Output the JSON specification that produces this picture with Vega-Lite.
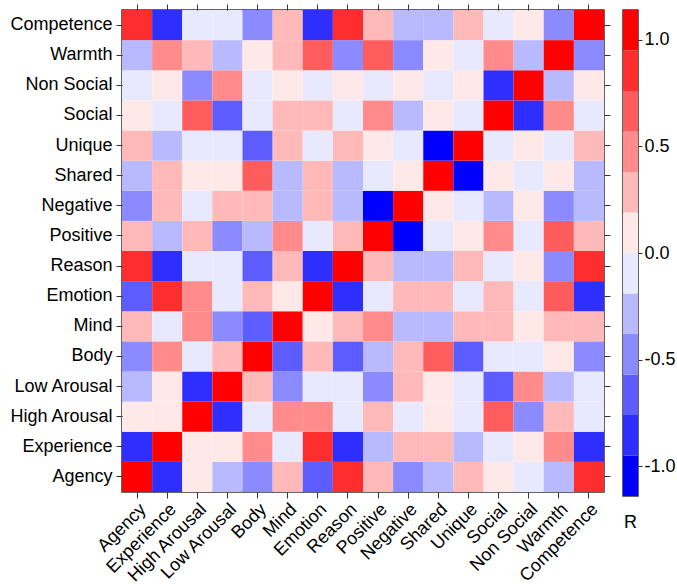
{
  "$schema": "https://vega.github.io/schema/vega-lite/v6.json",
  "padding": {"left": 8, "top": 2, "right": 0, "bottom": 2},
  "background": "white",
  "config": {
    "font": "Liberation Sans",
    "view": {"stroke": "#333333", "strokeWidth": 1.5},
    "axis": {"labelFontSize": 18, "labelColor": "#000000", "labelFont": "Liberation Sans", "tickColor": "#333333", "tickSize": 6, "tickWidth": 1, "domain": false, "grid": false, "title": null},
    "concat": {"spacing": 10}
  },
  "resolve": {"scale": {"color": "independent"}},
  "datasets": {
    "cells": [
      {"x":"Agency","y":"Agency","r":1},{"x":"Experience","y":"Agency","r":-0.85},{"x":"High Arousal","y":"Agency","r":0.09},{"x":"Low Arousal","y":"Agency","r":-0.28},{"x":"Body","y":"Agency","r":-0.47},{"x":"Mind","y":"Agency","r":0.28},{"x":"Emotion","y":"Agency","r":-0.66},{"x":"Reason","y":"Agency","r":0.85},{"x":"Positive","y":"Agency","r":0.28},{"x":"Negative","y":"Agency","r":-0.47},{"x":"Shared","y":"Agency","r":-0.28},{"x":"Unique","y":"Agency","r":0.28},{"x":"Social","y":"Agency","r":0.09},{"x":"Non Social","y":"Agency","r":-0.09},{"x":"Warmth","y":"Agency","r":-0.28},{"x":"Competence","y":"Agency","r":0.85},
      {"x":"Agency","y":"Experience","r":-0.85},{"x":"Experience","y":"Experience","r":1},{"x":"High Arousal","y":"Experience","r":0.09},{"x":"Low Arousal","y":"Experience","r":0.09},{"x":"Body","y":"Experience","r":0.47},{"x":"Mind","y":"Experience","r":-0.09},{"x":"Emotion","y":"Experience","r":0.85},{"x":"Reason","y":"Experience","r":-0.85},{"x":"Positive","y":"Experience","r":-0.28},{"x":"Negative","y":"Experience","r":0.28},{"x":"Shared","y":"Experience","r":0.28},{"x":"Unique","y":"Experience","r":-0.28},{"x":"Social","y":"Experience","r":-0.09},{"x":"Non Social","y":"Experience","r":0.09},{"x":"Warmth","y":"Experience","r":0.47},{"x":"Competence","y":"Experience","r":-0.85},
      {"x":"Agency","y":"High Arousal","r":0.09},{"x":"Experience","y":"High Arousal","r":0.09},{"x":"High Arousal","y":"High Arousal","r":1},{"x":"Low Arousal","y":"High Arousal","r":-0.85},{"x":"Body","y":"High Arousal","r":-0.09},{"x":"Mind","y":"High Arousal","r":0.47},{"x":"Emotion","y":"High Arousal","r":0.47},{"x":"Reason","y":"High Arousal","r":-0.09},{"x":"Positive","y":"High Arousal","r":0.28},{"x":"Negative","y":"High Arousal","r":-0.09},{"x":"Shared","y":"High Arousal","r":0.09},{"x":"Unique","y":"High Arousal","r":-0.09},{"x":"Social","y":"High Arousal","r":0.66},{"x":"Non Social","y":"High Arousal","r":-0.47},{"x":"Warmth","y":"High Arousal","r":0.28},{"x":"Competence","y":"High Arousal","r":-0.09},
      {"x":"Agency","y":"Low Arousal","r":-0.28},{"x":"Experience","y":"Low Arousal","r":0.09},{"x":"High Arousal","y":"Low Arousal","r":-0.85},{"x":"Low Arousal","y":"Low Arousal","r":1},{"x":"Body","y":"Low Arousal","r":0.28},{"x":"Mind","y":"Low Arousal","r":-0.47},{"x":"Emotion","y":"Low Arousal","r":-0.09},{"x":"Reason","y":"Low Arousal","r":-0.09},{"x":"Positive","y":"Low Arousal","r":-0.47},{"x":"Negative","y":"Low Arousal","r":0.28},{"x":"Shared","y":"Low Arousal","r":0.09},{"x":"Unique","y":"Low Arousal","r":-0.09},{"x":"Social","y":"Low Arousal","r":-0.66},{"x":"Non Social","y":"Low Arousal","r":0.47},{"x":"Warmth","y":"Low Arousal","r":-0.28},{"x":"Competence","y":"Low Arousal","r":-0.09},
      {"x":"Agency","y":"Body","r":-0.47},{"x":"Experience","y":"Body","r":0.47},{"x":"High Arousal","y":"Body","r":-0.09},{"x":"Low Arousal","y":"Body","r":0.28},{"x":"Body","y":"Body","r":1},{"x":"Mind","y":"Body","r":-0.66},{"x":"Emotion","y":"Body","r":0.28},{"x":"Reason","y":"Body","r":-0.66},{"x":"Positive","y":"Body","r":-0.28},{"x":"Negative","y":"Body","r":0.28},{"x":"Shared","y":"Body","r":0.66},{"x":"Unique","y":"Body","r":-0.66},{"x":"Social","y":"Body","r":-0.09},{"x":"Non Social","y":"Body","r":-0.09},{"x":"Warmth","y":"Body","r":0.09},{"x":"Competence","y":"Body","r":-0.47},
      {"x":"Agency","y":"Mind","r":0.28},{"x":"Experience","y":"Mind","r":-0.09},{"x":"High Arousal","y":"Mind","r":0.47},{"x":"Low Arousal","y":"Mind","r":-0.47},{"x":"Body","y":"Mind","r":-0.66},{"x":"Mind","y":"Mind","r":1},{"x":"Emotion","y":"Mind","r":0.09},{"x":"Reason","y":"Mind","r":0.28},{"x":"Positive","y":"Mind","r":0.47},{"x":"Negative","y":"Mind","r":-0.28},{"x":"Shared","y":"Mind","r":-0.28},{"x":"Unique","y":"Mind","r":0.28},{"x":"Social","y":"Mind","r":0.28},{"x":"Non Social","y":"Mind","r":0.09},{"x":"Warmth","y":"Mind","r":0.28},{"x":"Competence","y":"Mind","r":0.28},
      {"x":"Agency","y":"Emotion","r":-0.66},{"x":"Experience","y":"Emotion","r":0.85},{"x":"High Arousal","y":"Emotion","r":0.47},{"x":"Low Arousal","y":"Emotion","r":-0.09},{"x":"Body","y":"Emotion","r":0.28},{"x":"Mind","y":"Emotion","r":0.09},{"x":"Emotion","y":"Emotion","r":1},{"x":"Reason","y":"Emotion","r":-0.85},{"x":"Positive","y":"Emotion","r":-0.09},{"x":"Negative","y":"Emotion","r":0.28},{"x":"Shared","y":"Emotion","r":0.28},{"x":"Unique","y":"Emotion","r":-0.09},{"x":"Social","y":"Emotion","r":0.28},{"x":"Non Social","y":"Emotion","r":-0.09},{"x":"Warmth","y":"Emotion","r":0.66},{"x":"Competence","y":"Emotion","r":-0.85},
      {"x":"Agency","y":"Reason","r":0.85},{"x":"Experience","y":"Reason","r":-0.85},{"x":"High Arousal","y":"Reason","r":-0.09},{"x":"Low Arousal","y":"Reason","r":-0.09},{"x":"Body","y":"Reason","r":-0.66},{"x":"Mind","y":"Reason","r":0.28},{"x":"Emotion","y":"Reason","r":-0.85},{"x":"Reason","y":"Reason","r":1},{"x":"Positive","y":"Reason","r":0.28},{"x":"Negative","y":"Reason","r":-0.28},{"x":"Shared","y":"Reason","r":-0.28},{"x":"Unique","y":"Reason","r":0.28},{"x":"Social","y":"Reason","r":-0.09},{"x":"Non Social","y":"Reason","r":0.09},{"x":"Warmth","y":"Reason","r":-0.47},{"x":"Competence","y":"Reason","r":0.85},
      {"x":"Agency","y":"Positive","r":0.28},{"x":"Experience","y":"Positive","r":-0.28},{"x":"High Arousal","y":"Positive","r":0.28},{"x":"Low Arousal","y":"Positive","r":-0.47},{"x":"Body","y":"Positive","r":-0.28},{"x":"Mind","y":"Positive","r":0.47},{"x":"Emotion","y":"Positive","r":-0.09},{"x":"Reason","y":"Positive","r":0.28},{"x":"Positive","y":"Positive","r":1},{"x":"Negative","y":"Positive","r":-0.98},{"x":"Shared","y":"Positive","r":-0.09},{"x":"Unique","y":"Positive","r":0.09},{"x":"Social","y":"Positive","r":0.47},{"x":"Non Social","y":"Positive","r":-0.09},{"x":"Warmth","y":"Positive","r":0.66},{"x":"Competence","y":"Positive","r":0.28},
      {"x":"Agency","y":"Negative","r":-0.47},{"x":"Experience","y":"Negative","r":0.28},{"x":"High Arousal","y":"Negative","r":-0.09},{"x":"Low Arousal","y":"Negative","r":0.28},{"x":"Body","y":"Negative","r":0.28},{"x":"Mind","y":"Negative","r":-0.28},{"x":"Emotion","y":"Negative","r":0.28},{"x":"Reason","y":"Negative","r":-0.28},{"x":"Positive","y":"Negative","r":-0.98},{"x":"Negative","y":"Negative","r":1},{"x":"Shared","y":"Negative","r":0.09},{"x":"Unique","y":"Negative","r":-0.09},{"x":"Social","y":"Negative","r":-0.28},{"x":"Non Social","y":"Negative","r":0.09},{"x":"Warmth","y":"Negative","r":-0.47},{"x":"Competence","y":"Negative","r":-0.28},
      {"x":"Agency","y":"Shared","r":-0.28},{"x":"Experience","y":"Shared","r":0.28},{"x":"High Arousal","y":"Shared","r":0.09},{"x":"Low Arousal","y":"Shared","r":0.09},{"x":"Body","y":"Shared","r":0.66},{"x":"Mind","y":"Shared","r":-0.28},{"x":"Emotion","y":"Shared","r":0.28},{"x":"Reason","y":"Shared","r":-0.28},{"x":"Positive","y":"Shared","r":-0.09},{"x":"Negative","y":"Shared","r":0.09},{"x":"Shared","y":"Shared","r":1},{"x":"Unique","y":"Shared","r":-0.98},{"x":"Social","y":"Shared","r":0.09},{"x":"Non Social","y":"Shared","r":-0.09},{"x":"Warmth","y":"Shared","r":0.09},{"x":"Competence","y":"Shared","r":-0.28},
      {"x":"Agency","y":"Unique","r":0.28},{"x":"Experience","y":"Unique","r":-0.28},{"x":"High Arousal","y":"Unique","r":-0.09},{"x":"Low Arousal","y":"Unique","r":-0.09},{"x":"Body","y":"Unique","r":-0.66},{"x":"Mind","y":"Unique","r":0.28},{"x":"Emotion","y":"Unique","r":-0.09},{"x":"Reason","y":"Unique","r":0.28},{"x":"Positive","y":"Unique","r":0.09},{"x":"Negative","y":"Unique","r":-0.09},{"x":"Shared","y":"Unique","r":-0.98},{"x":"Unique","y":"Unique","r":1},{"x":"Social","y":"Unique","r":-0.09},{"x":"Non Social","y":"Unique","r":0.09},{"x":"Warmth","y":"Unique","r":-0.09},{"x":"Competence","y":"Unique","r":0.28},
      {"x":"Agency","y":"Social","r":0.09},{"x":"Experience","y":"Social","r":-0.09},{"x":"High Arousal","y":"Social","r":0.66},{"x":"Low Arousal","y":"Social","r":-0.66},{"x":"Body","y":"Social","r":-0.09},{"x":"Mind","y":"Social","r":0.28},{"x":"Emotion","y":"Social","r":0.28},{"x":"Reason","y":"Social","r":-0.09},{"x":"Positive","y":"Social","r":0.47},{"x":"Negative","y":"Social","r":-0.28},{"x":"Shared","y":"Social","r":0.09},{"x":"Unique","y":"Social","r":-0.09},{"x":"Social","y":"Social","r":1},{"x":"Non Social","y":"Social","r":-0.85},{"x":"Warmth","y":"Social","r":0.47},{"x":"Competence","y":"Social","r":-0.09},
      {"x":"Agency","y":"Non Social","r":-0.09},{"x":"Experience","y":"Non Social","r":0.09},{"x":"High Arousal","y":"Non Social","r":-0.47},{"x":"Low Arousal","y":"Non Social","r":0.47},{"x":"Body","y":"Non Social","r":-0.09},{"x":"Mind","y":"Non Social","r":0.09},{"x":"Emotion","y":"Non Social","r":-0.09},{"x":"Reason","y":"Non Social","r":0.09},{"x":"Positive","y":"Non Social","r":-0.09},{"x":"Negative","y":"Non Social","r":0.09},{"x":"Shared","y":"Non Social","r":-0.09},{"x":"Unique","y":"Non Social","r":0.09},{"x":"Social","y":"Non Social","r":-0.85},{"x":"Non Social","y":"Non Social","r":1},{"x":"Warmth","y":"Non Social","r":-0.28},{"x":"Competence","y":"Non Social","r":0.09},
      {"x":"Agency","y":"Warmth","r":-0.28},{"x":"Experience","y":"Warmth","r":0.47},{"x":"High Arousal","y":"Warmth","r":0.28},{"x":"Low Arousal","y":"Warmth","r":-0.28},{"x":"Body","y":"Warmth","r":0.09},{"x":"Mind","y":"Warmth","r":0.28},{"x":"Emotion","y":"Warmth","r":0.66},{"x":"Reason","y":"Warmth","r":-0.47},{"x":"Positive","y":"Warmth","r":0.66},{"x":"Negative","y":"Warmth","r":-0.47},{"x":"Shared","y":"Warmth","r":0.09},{"x":"Unique","y":"Warmth","r":-0.09},{"x":"Social","y":"Warmth","r":0.47},{"x":"Non Social","y":"Warmth","r":-0.28},{"x":"Warmth","y":"Warmth","r":1},{"x":"Competence","y":"Warmth","r":-0.47},
      {"x":"Agency","y":"Competence","r":0.85},{"x":"Experience","y":"Competence","r":-0.85},{"x":"High Arousal","y":"Competence","r":-0.09},{"x":"Low Arousal","y":"Competence","r":-0.09},{"x":"Body","y":"Competence","r":-0.47},{"x":"Mind","y":"Competence","r":0.28},{"x":"Emotion","y":"Competence","r":-0.85},{"x":"Reason","y":"Competence","r":0.85},{"x":"Positive","y":"Competence","r":0.28},{"x":"Negative","y":"Competence","r":-0.28},{"x":"Shared","y":"Competence","r":-0.28},{"x":"Unique","y":"Competence","r":0.28},{"x":"Social","y":"Competence","r":-0.09},{"x":"Non Social","y":"Competence","r":0.09},{"x":"Warmth","y":"Competence","r":-0.47},{"x":"Competence","y":"Competence","r":1}
    ],
    "bands": [
      {"lo":-1.14,"hi":-0.95,"mid":-1.0},{"lo":-0.95,"hi":-0.76,"mid":-0.85},{"lo":-0.76,"hi":-0.57,"mid":-0.66},{"lo":-0.57,"hi":-0.38,"mid":-0.47},{"lo":-0.38,"hi":-0.19,"mid":-0.28},{"lo":-0.19,"hi":0,"mid":-0.09},
      {"lo":0,"hi":0.19,"mid":0.09},{"lo":0.19,"hi":0.38,"mid":0.28},{"lo":0.38,"hi":0.57,"mid":0.47},{"lo":0.57,"hi":0.76,"mid":0.66},{"lo":0.76,"hi":0.95,"mid":0.85},{"lo":0.95,"hi":1.14,"mid":1.0}
    ]
  },
  "hconcat": [
    {
      "width": 482,
      "height": 482,
      "data": {"name": "cells"},
      "layer": [
        {
          "mark": {"type": "rect"},
          "encoding": {
            "x": {"field": "x", "type": "nominal", "sort": ["Agency","Experience","High Arousal","Low Arousal","Body","Mind","Emotion","Reason","Positive","Negative","Shared","Unique","Social","Non Social","Warmth","Competence"], "scale": {"paddingInner": 0, "paddingOuter": 0}, "axis": {"orient": "bottom", "labelAngle": -45, "labelPadding": 2, "title": null}},
            "y": {"field": "y", "type": "nominal", "sort": ["Competence","Warmth","Non Social","Social","Unique","Shared","Negative","Positive","Reason","Emotion","Mind","Body","Low Arousal","High Arousal","Experience","Agency"], "scale": {"paddingInner": 0, "paddingOuter": 0}, "axis": {"orient": "left", "labelPadding": 4, "title": null}},
            "color": {"field": "r", "type": "quantitative", "scale": {"type": "threshold", "domain": [-0.95,-0.76,-0.57,-0.38,-0.19,0,0.19,0.38,0.57,0.76,0.95], "range": ["#0000FF","#2E2EFF","#5D5DFF","#8B8BFF","#B9B9FF","#E8E8FF","#FFE8E8","#FFB9B9","#FF8B8B","#FF5D5D","#FF2E2E","#FF0000"]}, "legend": null}
          }
        },
        {
          "mark": {"type": "rect", "opacity": 0},
          "encoding": {
            "x": {"field": "x", "type": "nominal", "sort": ["Agency","Experience","High Arousal","Low Arousal","Body","Mind","Emotion","Reason","Positive","Negative","Shared","Unique","Social","Non Social","Warmth","Competence"], "axis": {"orient": "top", "labels": false, "title": null}},
            "y": {"field": "y", "type": "nominal", "sort": ["Competence","Warmth","Non Social","Social","Unique","Shared","Negative","Positive","Reason","Emotion","Mind","Body","Low Arousal","High Arousal","Experience","Agency"], "axis": {"orient": "right", "labels": false, "title": null}}
          }
        }
      ],
      "resolve": {"axis": {"x": "independent", "y": "independent"}}
    },
    {
      "width": 15,
      "height": 486,
      "data": {"name": "bands"},
      "title": {"text": "R", "orient": "bottom", "frame": "group", "anchor": "middle", "fontSize": 18, "fontWeight": "normal", "font": "Liberation Sans", "color": "#000000", "offset": 18},
      "mark": {"type": "rect"},
      "encoding": {
        "y": {"field": "lo", "type": "quantitative", "scale": {"domain": [-1.14, 1.14], "nice": false, "zero": false}, "axis": {"orient": "right", "values": [-1, -0.5, 0, 0.5, 1], "labelExpr": "datum.value < 0 ? '-' + format(-datum.value, '.1f') : format(datum.value, '.1f')", "tickSize": 4, "labelPadding": 2, "title": null}},
        "y2": {"field": "hi"},
        "color": {"field": "mid", "type": "quantitative", "scale": {"type": "threshold", "domain": [-0.95,-0.76,-0.57,-0.38,-0.19,0,0.19,0.38,0.57,0.76,0.95], "range": ["#0000FF","#2E2EFF","#5D5DFF","#8B8BFF","#B9B9FF","#E8E8FF","#FFE8E8","#FFB9B9","#FF8B8B","#FF5D5D","#FF2E2E","#FF0000"]}, "legend": null}
      }
    }
  ]
}
